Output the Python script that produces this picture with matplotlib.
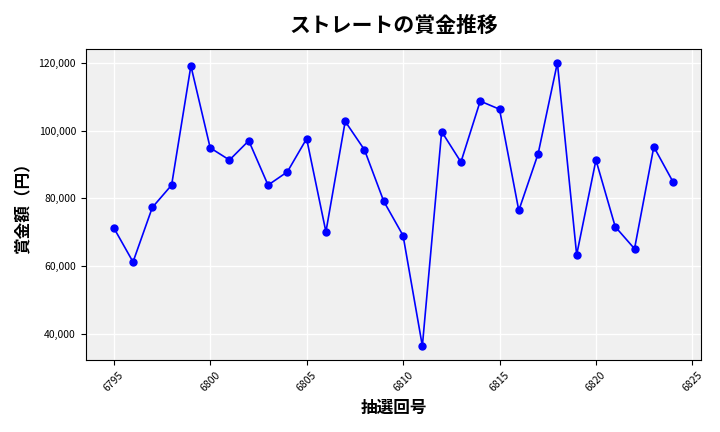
import matplotlib.pyplot as plt
from matplotlib.ticker import FuncFormatter

plt.rcParams['font.family'] = ['Noto Sans CJK JP', 'DejaVu Sans']

draws = list(range(6795, 6825))
prizes = [71300, 61200, 77300, 83900, 119100, 94900, 91300, 97000, 83900, 87800,
          97600, 70100, 102700, 94300, 79100, 69000, 36400, 99700, 90700, 108700,
          106300, 76400, 93100, 120000, 63300, 91300, 71600, 65100, 95200, 84800]

fig, ax = plt.subplots(figsize=(7.2, 4.32), dpi=100)
ax.set_facecolor('#f0f0f0')
ax.grid(True, color='white', linewidth=1)
ax.set_axisbelow(True)
ax.plot(draws, prizes, color='blue', marker='o', markersize=5, linewidth=1.2)

ax.set_title('ストレートの賞金推移', fontsize=15, fontweight='bold', pad=12)
ax.set_xlabel('抽選回号', fontsize=12, fontweight='bold')
ax.set_ylabel('賞金額（円）', fontsize=12, fontweight='bold')
ax.yaxis.set_major_formatter(FuncFormatter(lambda v, p: f'{int(v):,}'))
ax.tick_params(axis='x', labelrotation=45, labelsize=7.5)
ax.tick_params(axis='y', labelsize=7.5)

plt.tight_layout()
plt.savefig('out.png')
